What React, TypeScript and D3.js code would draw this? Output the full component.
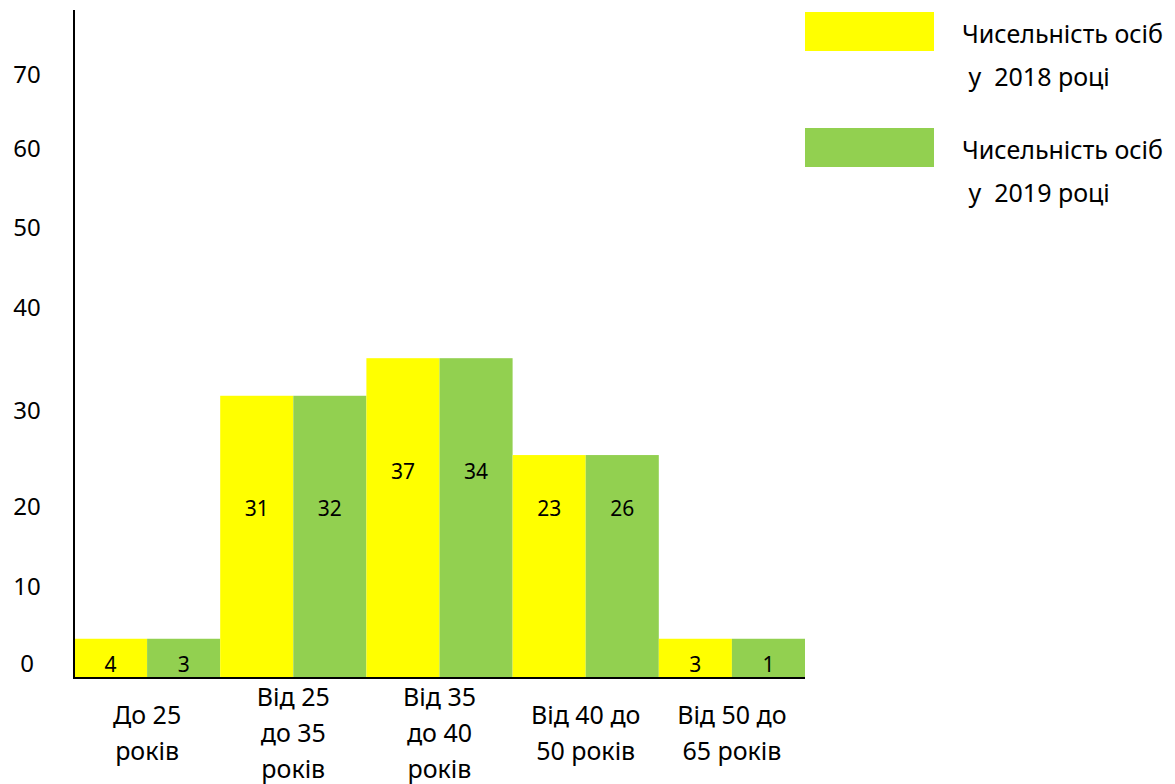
import React from "react";
import * as d3 from "d3";

const categories: string[][] = [
  ["До 25", "років"],
  ["Від 25", "до 35", "років"],
  ["Від 35", "до 40", "років"],
  ["Від 40 до", "50 років"],
  ["Від 50 до", "65 років"],
];
const seriesNames = ["2018", "2019"];
const legendLines: string[][] = [
  ["Чисельність осіб", " у  2018 році"],
  ["Чисельність осіб", " у  2019 році"],
];
const values2018 = [4, 31, 37, 23, 3];
const values2019 = [3, 32, 34, 26, 1];
// apparent heights of the drawn bars (axis units)
const barLevels = [4.7, 33.8, 38.3, 26.7, 4.7];
// apparent vertical position of the value labels (axis units)
const labelLevels = [1.7, 20.4, 24.8, 20.4, 1.7];
// tick labels and the level at which each is printed
const tickLabels = ["0", "10", "20", "30", "40", "50", "60", "70"];
const tickLevels = [1.9, 11.1, 20.7, 32.1, 44.5, 54.1, 63.5, 72.4];
const colors = ["#FFFF00", "#92D050"];

const W = 1175;
const H = 784;
const FONT = "'Noto Sans', sans-serif";

export default function App() {
  const y = d3.scaleLinear().domain([0, 80]).range([678, 10]);
  const x0 = d3
    .scaleBand<number>()
    .domain(categories.map((_, i) => i))
    .range([74, 805])
    .paddingInner(0)
    .paddingOuter(0);
  const x1 = d3
    .scaleBand<number>()
    .domain(seriesNames.map((_, i) => i))
    .range([0, x0.bandwidth()]);
  const series = [values2018, values2019];
  const lineH = 36;
  const labelMidBaseline = 742;

  return (
    <svg
      width={W}
      height={H}
      style={{ position: "absolute", left: 0, top: 0, background: "#fff" }}
      fontFamily={FONT}
    >
      {/* bars */}
      {categories.map((_, gi) =>
        series.map((vals, si) => (
          <rect
            key={`b${gi}-${si}`}
            x={(x0(gi) ?? 0) + (x1(si) ?? 0)}
            y={y(barLevels[gi])}
            width={x1.bandwidth()}
            height={y(0) - y(barLevels[gi])}
            fill={colors[si]}
          />
        ))
      )}
      {/* value labels */}
      {categories.map((_, gi) =>
        series.map((vals, si) => (
          <text
            key={`v${gi}-${si}`}
            x={(x0(gi) ?? 0) + (x1(si) ?? 0) + x1.bandwidth() / 2}
            y={y(labelLevels[gi])}
            textAnchor="middle"
            dominantBaseline="central"
            fontSize={21}
            fill="#000"
          >
            {vals[gi]}
          </text>
        ))
      )}
      {/* axes */}
      <line x1={74} x2={74} y1={y(80)} y2={y(0) + 1} stroke="#000" strokeWidth={2} />
      <line x1={73} x2={805} y1={y(0)} y2={y(0)} stroke="#000" strokeWidth={2} />
      {/* y tick labels */}
      {tickLabels.map((t, i) => (
        <text
          key={`t${i}`}
          x={27}
          y={y(tickLevels[i])}
          textAnchor="middle"
          dominantBaseline="central"
          fontSize={24}
          fill="#000"
        >
          {t}
        </text>
      ))}
      {/* category labels */}
      {categories.map((lines, gi) => {
        const cx = (x0(gi) ?? 0) + x0.bandwidth() / 2;
        const start = labelMidBaseline - ((lines.length - 1) * lineH) / 2;
        return lines.map((ln, li) => (
          <text
            key={`c${gi}-${li}`}
            x={cx}
            y={start + li * lineH}
            textAnchor="middle"
            fontSize={25}
            fill="#000"
          >
            {ln}
          </text>
        ));
      })}
      {/* legend */}
      {legendLines.map((lines, i) => (
        <g key={`l${i}`} transform={`translate(805, ${12 + i * 116})`}>
          <rect x={0} y={0} width={129} height={39} fill={colors[i]} />
          {lines.map((ln, li) => (
            <text
              key={li}
              x={157}
              y={31 + li * 43}
              fontSize={25}
              fill="#000"
              style={{ whiteSpace: "pre" }}
            >
              {ln}
            </text>
          ))}
        </g>
      ))}
    </svg>
  );
}
